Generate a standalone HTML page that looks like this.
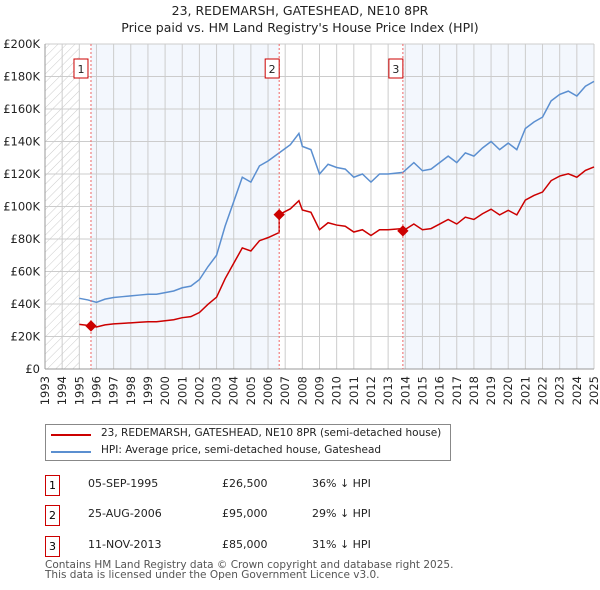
<!DOCTYPE html>
<html><head><meta charset="utf-8"><style>
body{margin:0;background:#fff;font-family:"DejaVu Sans","Liberation Sans",sans-serif;}
#wrap{position:relative;width:600px;height:590px;overflow:hidden}
.t{position:absolute;font-size:12px;color:#222;white-space:nowrap}
</style></head><body><div id="wrap">
<div class="t" style="left:0;width:600px;text-align:center;top:3px;font-size:12.5px">23, REDEMARSH, GATESHEAD, NE10 8PR</div>
<div class="t" style="left:0;width:600px;text-align:center;top:20px;font-size:12.5px">Price paid vs. HM Land Registry's House Price Index (HPI)</div>
<svg id="svg" width="600" height="420" style="position:absolute;left:0;top:0;font-family:'DejaVu Sans',sans-serif">
<defs><pattern id="h" width="6" height="6" patternUnits="userSpaceOnUse" patternTransform="rotate(45)"><line x1="0" y1="0" x2="0" y2="6" stroke="#ccc" stroke-width="1"/></pattern></defs>
</svg>
<div style="position:absolute;left:45px;top:424px;width:404px;height:35px;border:1px solid #888">
<div style="position:absolute;left:5px;top:9px;width:40px;border-top:2px solid #cc0000"></div>
<div class="t" style="left:55px;top:2px;font-size:10.5px">23, REDEMARSH, GATESHEAD, NE10 8PR (semi-detached house)</div>
<div style="position:absolute;left:5px;top:26px;width:40px;border-top:2px solid #5b8fd0"></div>
<div class="t" style="left:55px;top:19px;font-size:10.5px">HPI: Average price, semi-detached house, Gateshead</div>
</div>
<div id="rows"></div>
<div class="t" style="left:45px;top:560px;font-size:10.5px;color:#555;line-height:10px">Contains HM Land Registry data © Crown copyright and database right 2025.<br>This data is licensed under the Open Government Licence v3.0.</div>
</div>
<script>
const hpiYears=[1995,1995.5,1996,1996.5,1997,1997.5,1998,1998.5,1999,1999.5,2000,2000.5,2001,2001.5,2002,2002.5,2003,2003.5,2004,2004.5,2005,2005.5,2006,2006.65,2007.3,2007.8,2008,2008.5,2009,2009.5,2010,2010.5,2011,2011.5,2012,2012.5,2013,2013.86,2014.5,2015,2015.5,2016,2016.5,2017,2017.5,2018,2018.5,2019,2019.5,2020,2020.5,2021,2021.5,2022,2022.5,2023,2023.5,2024,2024.5,2025];
const hpiValues=[43.5,42.5,41,43,44,44.5,45,45.5,46,46,47,48,50,51,55,63,70,88,103,118,115,125,128,133,138,145,137,135,120,126,124,123,118,120,115,120,120,121,127,122,123,127,131,127,133,131,136,140,135,139,135,148,152,155,165,169,171,168,174,177];
const saleDates=[1995.68,2006.65,2013.86];
const salePrices=[26.5,95,85];
const saleLabels=["05-SEP-1995","25-AUG-2006","11-NOV-2013"];
const salePriceText=["£26,500","£95,000","£85,000"];
const saleHpiText=["36% ↓ HPI","29% ↓ HPI","31% ↓ HPI"];
const yTicks=[0,20,40,60,80,100,120,140,160,180,200];
const X0=45,X1=594,Y0=369,Y1=44;
const x=t=>X0+(t-1993)/32*(X1-X0);
const y=v=>Y0-v/200*(Y0-Y1);
const svg=document.getElementById('svg');const NS='http://www.w3.org/2000/svg';
function mk(tag,a,p){const e=document.createElementNS(NS,tag);for(const k in a)e.setAttribute(k,a[k]);(p||svg).appendChild(e);return e;}
function hpiAt(t){for(let i=0;i<hpiYears.length-1;i++){if(t<=hpiYears[i+1]){const f=(t-hpiYears[i])/(hpiYears[i+1]-hpiYears[i]);return hpiValues[i]+f*(hpiValues[i+1]-hpiValues[i]);}}return hpiValues[hpiValues.length-1];}
let r=mk('rect',{x:X0,y:Y1,width:x(1995)-X0,height:Y0-Y1,fill:'url(#h)'});
r=mk('rect',{x:x(saleDates[0]),y:Y1,width:x(saleDates[1])-x(saleDates[0]),height:Y0-Y1,fill:'#eef3fc',opacity:0.7});
r=mk('rect',{x:x(saleDates[2]),y:Y1,width:X1-x(saleDates[2]),height:Y0-Y1,fill:'#eef3fc',opacity:0.7});
for(let yr=1993;yr<=2025;yr++){mk('line',{x1:x(yr),x2:x(yr),y1:Y1,y2:Y0,stroke:'#ccc'});
let tx=mk('text',{x:0,y:0,'text-anchor':'end','font-size':11.5,fill:'#222',transform:`translate(${x(yr)+4},376) rotate(-90)`});tx.textContent=yr;}
yTicks.forEach(v=>{mk('line',{x1:X0,x2:X1,y1:y(v),y2:y(v),stroke:'#ccc'});
let tx=mk('text',{x:40,y:y(v)+4,'text-anchor':'end','font-size':11.5,fill:'#222'});tx.textContent=v?'£'+v+'K':'£0';});
mk('line',{x1:X0,x2:X0,y1:Y1,y2:Y0,stroke:'#999'});mk('line',{x1:X0,x2:X1,y1:Y0,y2:Y0,stroke:'#999'});
let p=mk('polyline',{points:hpiYears.map((t,i)=>x(t)+','+y(hpiValues[i])).join(' '),fill:'none',stroke:'#5b8fd0','stroke-width':1.5});

const pts=[];
for(let i=0;i<hpiYears.length;i++){const t=hpiYears[i];let k=0;for(let s=0;s<saleDates.length;s++)if(t>=saleDates[s])k=s;
if(i>0){for(let s=1;s<saleDates.length;s++){if(saleDates[s]>hpiYears[i-1]&&saleDates[s]<=t){const kk=s-1;pts.push([saleDates[s],salePrices[kk]*hpiAt(saleDates[s])/hpiAt(saleDates[kk])]);pts.push([saleDates[s],salePrices[s]]);}}}
pts.push([t,salePrices[k]*hpiValues[i]/hpiAt(saleDates[k])]);}
p=mk('polyline',{points:pts.map(q=>x(q[0])+','+y(q[1])).join(' '),fill:'none',stroke:'#cc0000','stroke-width':1.5});

saleDates.forEach((d,i)=>{let l=mk('line',{x1:x(d),x2:x(d),y1:Y1,y2:Y0,stroke:'#e66','stroke-dasharray':'2,2'});
let g=mk('g',{});
mk('rect',{x:x(d)-14+(i==0?-3:0),y:59,width:14,height:19,fill:'#fff',stroke:'#cc0000'},g);
let tx=mk('text',{x:x(d)-7+(i==0?-3:0),y:73,'text-anchor':'middle','font-size':11,fill:'#222'},g);tx.textContent=i+1;
let c=mk('rect',{x:x(d)-4,y:y(salePrices[i])-4,width:8,height:8,fill:'#cc0000',transform:`rotate(45 ${x(d)} ${y(salePrices[i])})`});});
const rows=document.getElementById('rows');
saleLabels.forEach((s,i)=>{const top=475+i*30.3;const d=document.createElement('div');

d.innerHTML=`<div style="position:absolute;left:45px;top:${top}px;width:13px;height:19px;border:1px solid #cc0000;font-size:11px;text-align:center;line-height:19px">${i+1}</div>
<div class="t" style="left:88px;width:70px;text-align:center;top:${top+2}px;font-size:11px">${s}</div><div class="t" style="left:222px;top:${top+2}px;font-size:11px">${salePriceText[i]}</div><div class="t" style="left:312px;top:${top+2}px;font-size:11px">${saleHpiText[i]}</div>`;rows.appendChild(d);});
</script></body></html>
